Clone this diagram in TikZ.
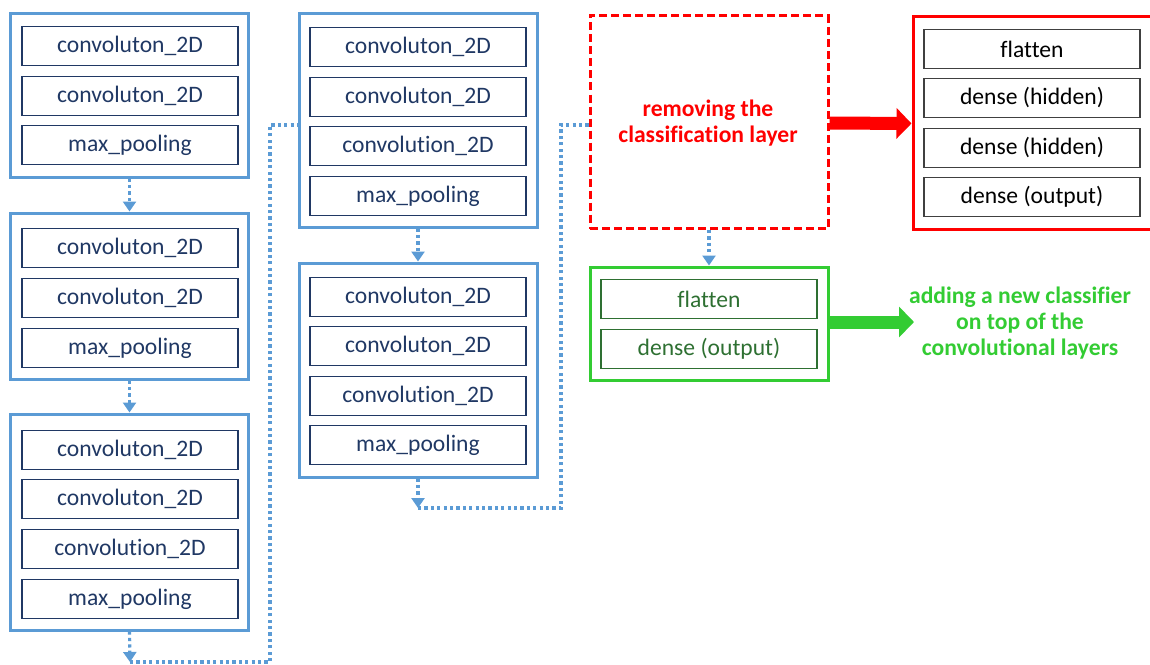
\documentclass[tikz,border=0pt]{standalone}
\usepackage{fontspec}
\setmainfont{Carlito}[Ligatures={NoCommon,NoContextual}]
\usetikzlibrary{arrows.meta}
\definecolor{cnnblue}{RGB}{91,155,213}
\definecolor{navy}{RGB}{32,56,100}
\definecolor{keepred}{RGB}{255,0,0}
\definecolor{newgreen}{RGB}{51,204,51}
\definecolor{darkgreen}{RGB}{46,112,50}
\begin{document}
\begin{tikzpicture}[x=0.5pt, y=-0.5pt,
    font=\fontsize{11.8}{13}\selectfont,
    stack/.style={rectangle, draw=cnnblue, line width=1.5pt, minimum width=119pt, inner sep=0pt},
    layer/.style={rectangle, draw=navy, text=navy, line width=0.6pt, minimum width=108pt, minimum height=19.5pt, inner sep=0pt},
    toplayer/.style={layer, draw=black!75, text=black},
    greenlayer/.style={layer, draw=darkgreen, text=darkgreen},
    link/.style={draw=cnnblue, line width=1.6pt, dash pattern=on 1.6pt off 1.6pt},
    flow/.style={link, -{Triangle[width=6.5pt,length=5pt]}},
    bigarrow/.style={line width=6.5pt, -{Triangle[width=15pt,length=7.5pt]}},
    note/.style={align=center, font=\fontsize{11.8}{13}\selectfont\bfseries}
]
    \useasboundingbox (0,0) rectangle (1150,664);

    % column 1
    \node [stack, minimum height=82pt] (b1) at (129.5,95) {};
    \node [layer] (b1l1) at (130,46) {convoluton\_2D};
    \node [layer] (b1l2) at (130,96) {convoluton\_2D};
    \node [layer] (b1l3) at (130,145) {max\_pooling};

    \node [stack, minimum height=83pt] (b2) at (129.5,296) {};
    \node [layer] (b2l1) at (130,248) {convoluton\_2D};
    \node [layer] (b2l2) at (130,298) {convoluton\_2D};
    \node [layer] (b2l3) at (130,348) {max\_pooling};

    \node [stack, minimum height=108pt] (b3) at (129.5,522) {};
    \node [layer] (b3l1) at (130,450) {convoluton\_2D};
    \node [layer] (b3l2) at (130,499) {convoluton\_2D};
    \node [layer] (b3l3) at (130,549) {convolution\_2D};
    \node [layer] (b3l4) at (130,599) {max\_pooling};

    % column 2
    \node [stack, minimum height=107pt] (b4) at (418,120) {};
    \node [layer] (b4l1) at (418,47) {convoluton\_2D};
    \node [layer] (b4l2) at (418,97) {convoluton\_2D};
    \node [layer] (b4l3) at (418,146) {convolution\_2D};
    \node [layer] (b4l4) at (418,196) {max\_pooling};

    \node [stack, minimum height=107pt] (b5) at (418,370) {};
    \node [layer] (b5l1) at (418,297) {convoluton\_2D};
    \node [layer] (b5l2) at (418,346) {convoluton\_2D};
    \node [layer] (b5l3) at (418,396) {convolution\_2D};
    \node [layer] (b5l4) at (418,445) {max\_pooling};

    % removed classifier
    \node [rectangle, draw=keepred, line width=1.5pt, dash pattern=on 4pt off 2pt, minimum width=119pt, minimum height=106.5pt] (removed) at (709,122) {};
    \node [note, text=keepred] (removedtext) at (708,123) {removing the\\classification layer};

    \node [rectangle, draw=keepred, line width=1.5pt, minimum width=119.5pt, minimum height=106.5pt] (old) at (1032.5,122.5) {};
    \node [toplayer] (old1) at (1032,49) {flatten};
    \node [toplayer] (old2) at (1032,98) {dense (hidden)};
    \node [toplayer] (old3) at (1032,148) {dense (hidden)};
    \node [toplayer] (old4) at (1032,197) {dense (output)};

    % new classifier
    \node [rectangle, draw=newgreen, line width=1.5pt, minimum width=119pt, minimum height=56.5pt] (new) at (709,323.5) {};
    \node [greenlayer] (new1) at (709,299) {flatten};
    \node [greenlayer] (new2) at (709,349) {dense (output)};
    \node [note, text=newgreen] (newtext) at (1020,323) {adding a new classifier\\on top of the\\convolutional layers};

    \coordinate (end1) at (130,662);
    \coordinate (end2) at (418,508);
    \coordinate (greentip) at (914,322);

    \draw [flow] (b1.south) -- (b2.north);
    \draw [flow] (b2.south) -- (b3.north);
    \draw [flow] (b3.south) -- (end1);
    \draw [link] (end1) -| (270,125) -- ([yshift=-2.5pt]b4.west);
    \draw [flow] (b4.south) -- (b5.north);
    \draw [flow] (b5.south) -- (end2);
    \draw [link] (end2) -| (561,125) -- ([yshift=-1.5pt]removed.west);
    \draw [flow] (removed.south) -- (new.north);

    \draw [bigarrow, draw=keepred, fill=keepred] ([yshift=-0.5pt]removed.east) -- ([yshift=-0.5pt]old.west);
    \draw [bigarrow, draw=newgreen, fill=newgreen] ([yshift=0.75pt]new.east) -- (greentip);
\end{tikzpicture}
\end{document}
